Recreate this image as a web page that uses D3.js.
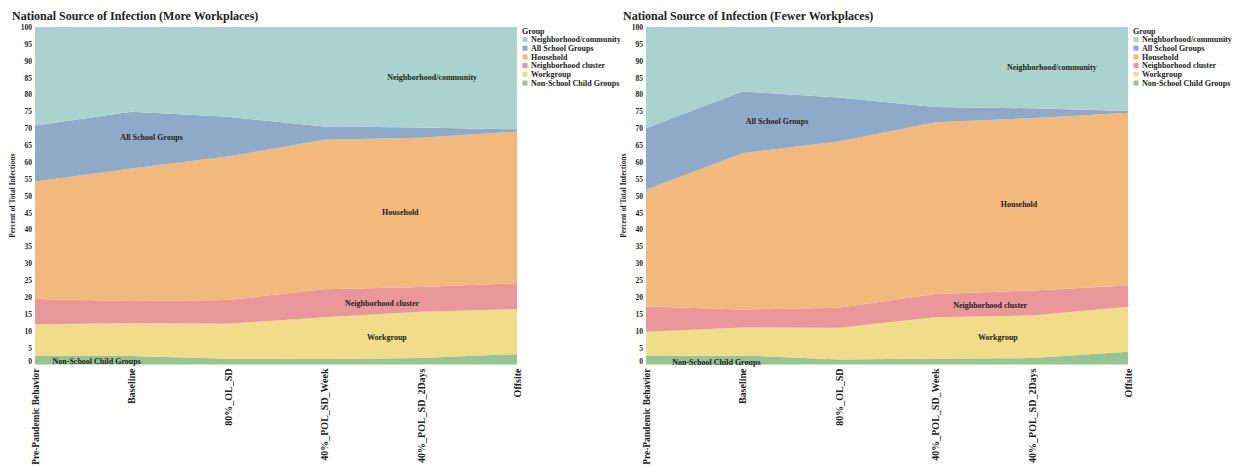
<!DOCTYPE html>
<html lang="en">
  <head>
    <meta charset="utf-8" />
    <title>National Source of Infection</title>
    <script src="https://d3js.org/d3.v7.js"></script>
    <style>
      body { margin: 0; background: #fff; }
      text { font-family: "Liberation Serif", "Times New Roman", serif; font-weight: bold; fill: #222; }
    </style>
  </head>
  <body>
    <div id="graph"></div>
    <script>

    // scenarios on the x axis
    var scenarios = ["Pre-Pandemic Behavior", "Baseline", "80%_OL_SD", "40%_POL_SD_Week", "40%_POL_SD_2Days", "Offsite"];

    // groups, bottom of the stack first
    var groups = ["Non-School Child Groups", "Workgroup", "Neighborhood cluster", "Household", "All School Groups", "Neighborhood/community"];
    var groupColors = ["#95c591", "#f1dc8a", "#e9979b", "#f2b87c", "#8eaac8", "#aad3cf"];

    // legend order (top to bottom)
    var legendOrder = ["Neighborhood/community", "All School Groups", "Household", "Neighborhood cluster", "Workgroup", "Non-School Child Groups"];

    var yTicks = d3.range(0, 101, 5);

    // percent of total infections, More Workplaces
    var moreNonSchool    = [2.5, 2.5, 1.7, 1.6, 1.9, 3.1];
    var moreWorkgroup    = [9.4, 9.7, 10.4, 12.4, 13.7, 13.3];
    var moreNbhdCluster  = [7.5, 6.6, 7.0, 8.3, 7.4, 7.7];
    var moreHousehold    = [34.8, 39.3, 42.5, 44.3, 44.2, 44.9];
    var moreSchool       = [16.6, 16.8, 11.8, 3.9, 3.0, 0.7];
    var moreCommunity    = [29.2, 25.1, 26.6, 29.5, 29.8, 30.3];

    // percent of total infections, Fewer Workplaces
    var fewerNonSchool   = [2.5, 2.7, 1.5, 1.8, 1.9, 3.8];
    var fewerWorkgroup   = [7.2, 8.3, 9.4, 12.2, 12.6, 13.3];
    var fewerNbhdCluster = [7.5, 5.3, 5.9, 6.9, 7.4, 6.3];
    var fewerHousehold   = [34.6, 46.3, 49.3, 50.9, 51.1, 51.2];
    var fewerSchool      = [18.2, 18.3, 13.0, 4.5, 2.9, 0.5];
    var fewerCommunity   = [30.0, 19.1, 20.9, 23.7, 24.1, 24.9];

    // where the in-chart labels sit: [scenario index (fractional), percent]
    var moreLabelAnchors = [[0.64, 1.1], [3.65, 8.2], [3.6, 18.3], [3.79, 45.2], [1.21, 67.4], [4.12, 85.2]];
    var fewerLabelAnchors = [[0.73, 0.8], [3.65, 8.1], [3.57, 17.6], [3.87, 47.4], [1.36, 72.2], [4.21, 88.1]];

    var panels = [
      {title: "National Source of Infection (More Workplaces)", left: 35,
       series: [moreNonSchool, moreWorkgroup, moreNbhdCluster, moreHousehold, moreSchool, moreCommunity],
       anchors: moreLabelAnchors},
      {title: "National Source of Infection (Fewer Workplaces)", left: 646,
       series: [fewerNonSchool, fewerWorkgroup, fewerNbhdCluster, fewerHousehold, fewerSchool, fewerCommunity],
       anchors: fewerLabelAnchors}
    ];

    var w = 1235, h = 467;
    var plotTop = 27, plotBottom = 364.5, plotWidth = 482;

    var svg = d3.select("#graph")
      .append("svg")
        .attr("width", w)
        .attr("height", h);

    panels.forEach(function(p) {

      // build rows for the stack
      var rows = scenarios.map(function(s, i) {
        var r = {scenario: s, idx: i};
        groups.forEach(function(g, k) { r[g] = p.series[k][i]; });
        return r;
      });

      var stacked = d3.stack().keys(groups)(rows);

      var x = d3.scaleLinear()
        .domain([0, scenarios.length - 1])
        .range([p.left, p.left + plotWidth]);

      var y = d3.scaleLinear()
        .domain([0, 100])
        .range([plotBottom, plotTop]);

      var area = d3.area()
        .x(d => x(d.data.idx))
        .y0(d => y(d[0]))
        .y1(d => y(d[1]));

      var g = svg.append("g");

      g.selectAll("path.layer")
        .data(stacked)
        .join("path")
          .attr("class", "layer")
          .attr("d", area)
          .attr("fill", (d, i) => groupColors[i]);

      // in-chart labels
      g.selectAll("text.inlabel")
        .data(groups)
        .join("text")
          .attr("class", "inlabel")
          .attr("x", (d, i) => x(p.anchors[i][0]))
          .attr("y", (d, i) => y(p.anchors[i][1]))
          .attr("dy", "0.35em")
          .attr("text-anchor", "middle")
          .style("font-size", "8px")
          .text(d => d);

      // y axis
      var yAxis = g.append("g")
        .attr("transform", `translate(${p.left},0)`)
        .call(d3.axisLeft(y).tickValues(yTicks).tickSize(0).tickPadding(3));
      yAxis.select(".domain").remove();
      yAxis.selectAll("text")
        .style("font-size", "7.5px")
        .style("font-family", "'Liberation Serif', serif")
        .attr("fill", "#333")
        .attr("dy", d => d === 0 ? "-0.1em" : "0.32em");

      // x axis
      var xAxis = g.append("g")
        .attr("transform", `translate(0,${plotBottom})`)
        .call(d3.axisBottom(x).tickValues(d3.range(scenarios.length)).tickFormat(i => scenarios[i]).tickSize(0));
      xAxis.select(".domain").remove();
      xAxis.selectAll("text")
        .style("font-size", "10px")
        .style("font-family", "'Liberation Serif', serif")
        .attr("fill", "#222")
        .attr("text-anchor", "end")
        .attr("transform", "rotate(-90)")
        .attr("x", -4)
        .attr("y", 0)
        .attr("dy", "0.35em")
        .each(function() {
          // shrink a label that would run off the bottom of the page
          var room = h - plotBottom - 6;
          var len = this.getComputedTextLength();
          if (len > room) d3.select(this).style("font-size", (10 * room / len).toFixed(2) + "px");
        });

      // y axis title
      g.append("text")
        .attr("transform", `translate(${p.left - 20},${(plotTop + plotBottom) / 2}) rotate(-90)`)
        .attr("text-anchor", "middle")
        .style("font-size", "7.5px")
        .text("Percent of Total Infections");

      // title
      g.append("text")
        .attr("x", p.left - 23)
        .attr("y", 20)
        .style("font-size", "12px")
        .text(p.title);

      // legend
      var lx = p.left + plotWidth + 5;
      var legend = g.append("g").attr("transform", `translate(${lx},0)`);
      legend.append("text")
        .attr("x", 0)
        .attr("y", 31.5)
        .attr("dy", "0.35em")
        .style("font-size", "8px")
        .text("Group");
      legendOrder.forEach(function(name, i) {
        var cy = 39.5 + i * 8.7;
        legend.append("rect")
          .attr("x", 0.5)
          .attr("y", cy - 2.5)
          .attr("width", 5)
          .attr("height", 5)
          .attr("fill", groupColors[groups.indexOf(name)]);
        legend.append("text")
          .attr("x", 9)
          .attr("y", cy)
          .attr("dy", "0.35em")
          .style("font-size", "8px")
          .text(name);
      });
    });

    </script>
  </body>
</html>
